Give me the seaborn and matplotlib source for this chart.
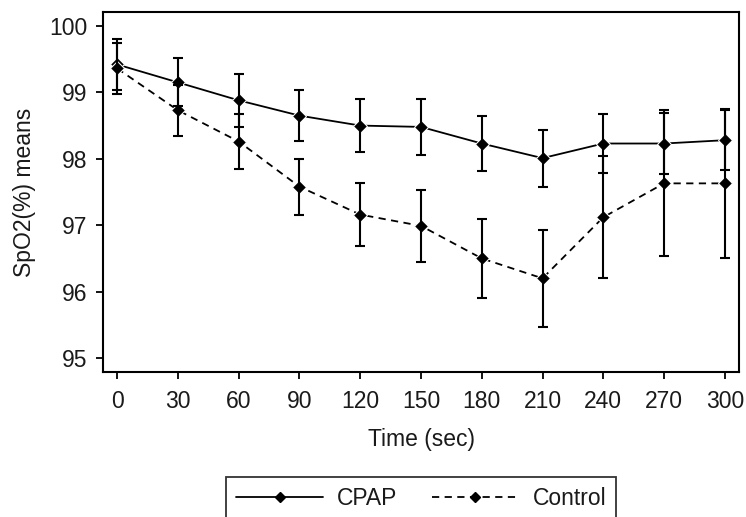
import matplotlib
matplotlib.use("Agg")
import matplotlib.pyplot as plt
import seaborn as sns
import pandas as pd
from matplotlib.lines import Line2D

time = [0, 30, 60, 90, 120, 150, 180, 210, 240, 270, 300]
cpap_mean = [99.42, 99.15, 98.88, 98.65, 98.50, 98.48, 98.23, 98.01, 98.23, 98.23, 98.28]
cpap_err = [0.38, 0.36, 0.40, 0.38, 0.40, 0.42, 0.42, 0.43, 0.45, 0.46, 0.45]
control_mean = [99.36, 98.73, 98.26, 97.58, 97.16, 96.99, 96.50, 96.20, 97.12, 97.63, 97.63]
control_err = [0.38, 0.38, 0.41, 0.42, 0.48, 0.54, 0.60, 0.73, 0.92, 1.10, 1.12]
groups = ["CPAP", "Control"]

df = pd.DataFrame({
    "Time (sec)": time * 2,
    "SpO2(%) means": cpap_mean + control_mean,
    "err": cpap_err + control_err,
    "group": [groups[0]] * len(time) + [groups[1]] * len(time),
})

sns.set_theme(style="white")
plt.rcParams["font.family"] = ["Liberation Sans", "DejaVu Sans"]

FS = 16.5
TXT = "#1a1a1a"

fig = plt.figure(figsize=(7.46, 5.17), dpi=100)
ax = fig.add_axes([103 / 746, 1 - 372 / 517, 636 / 746, 360 / 517])

dash_styles = {"CPAP": "", "Control": (4, 3)}
sns.lineplot(data=df, x="Time (sec)", y="SpO2(%) means", hue="group", style="group",
             palette={"CPAP": "black", "Control": "black"},
             dashes=dash_styles, markers={"CPAP": "D", "Control": "D"},
             markersize=7, linewidth=1.3, ax=ax, legend=False, errorbar=None)
for g in groups:
    sub = df[df["group"] == g]
    ax.errorbar(sub["Time (sec)"], sub["SpO2(%) means"], yerr=sub["err"], fmt="none",
                ecolor="black", elinewidth=1.5, capsize=3.5, capthick=1.5)

ax.set_xlim(-7, 307)
ax.set_ylim(94.79, 100.21)
ax.set_xticks(time)
ax.set_yticks([95, 96, 97, 98, 99, 100])
ax.tick_params(axis="both", direction="out", length=5, width=1.3, color="black",
               labelsize=FS, labelcolor=TXT, left=True, bottom=True, pad=6)
ax.tick_params(axis="x", pad=8)
for s in ax.spines.values():
    s.set_color("black")
    s.set_linewidth(1.5)
ax.set_xlabel("Time (sec)", fontsize=FS, color=TXT, labelpad=11)
ax.set_ylabel("SpO2(%) means", fontsize=FS, color=TXT, labelpad=10)

handles = [
    Line2D([0, 0.5, 1], [0, 0, 0], color="black", lw=1.3, marker="D", markersize=5,
           markevery=[1], linestyle="-"),
    Line2D([0, 0.5, 1], [0, 0, 0], color="black", lw=1.3, marker="D", markersize=5,
           markevery=[1], linestyle=(0, (4, 3))),
]
leg = fig.legend(handles, groups, loc="upper center", bbox_to_anchor=(421 / 746, 1 - 477 / 517),
                 ncol=2, frameon=True, fancybox=False, fontsize=FS, handlelength=3.8,
                 columnspacing=1.5, handletextpad=0.6, borderpad=0.45, borderaxespad=0)
leg.get_frame().set_edgecolor("black")
leg.get_frame().set_linewidth(1.3)
for t in leg.get_texts():
    t.set_color(TXT)

fig.savefig("out.png", dpi=100)
